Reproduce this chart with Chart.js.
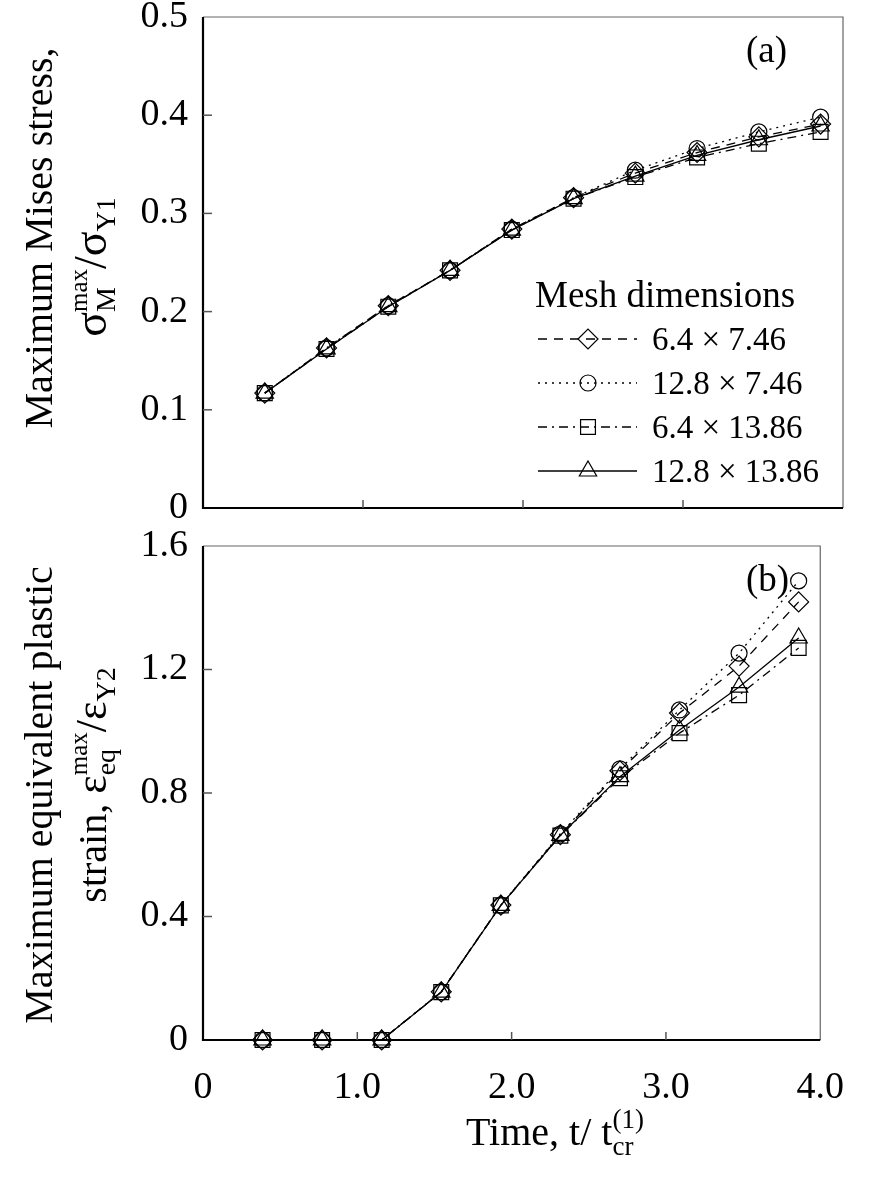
<!DOCTYPE html>
<html>
<head>
<meta charset="utf-8">
<script src="https://cdn.jsdelivr.net/npm/chart.js@4.4.1/dist/chart.umd.min.js"></script>
<style>
  html, body { margin: 0; padding: 0; background: #fff; }
  #wrap { position: relative; width: 869px; height: 1180px; overflow: hidden; }
  .panel { position: absolute; left: 0; width: 869px; }
  #panelA { top: -30px; height: 590px; }
  #panelB { top: 500px; height: 680px; }
</style>
</head>
<body>
<div id="wrap">
  <div class="panel" id="panelA"><canvas id="stressCanvas" width="869" height="590"></canvas></div>
  <div class="panel" id="panelB"><canvas id="strainCanvas" width="869" height="680"></canvas></div>
</div>
<script>
var SERIF = '"Liberation Serif", "Times New Roman", serif';
Chart.defaults.font.family = SERIF;
Chart.defaults.color = '#000';

// time steps, t / t_cr(1)
var times = [0.386, 0.772, 1.158, 1.544, 1.930, 2.316, 2.702, 3.088, 3.474, 3.860];

// mesh sizes
var meshLabels = ['6.4 \u00d7 7.46', '12.8 \u00d7 7.46', '6.4 \u00d7 13.86', '12.8 \u00d7 13.86'];

// (a) max Mises stress / sigma_Y1
var stress_6_4x7_46   = [0.117, 0.163, 0.206, 0.242, 0.284, 0.316, 0.341, 0.362, 0.378, 0.391];
var stress_12_8x7_46  = [0.117, 0.163, 0.206, 0.242, 0.284, 0.316, 0.344, 0.366, 0.383, 0.398];
var stress_6_4x13_86  = [0.117, 0.162, 0.205, 0.242, 0.283, 0.315, 0.337, 0.357, 0.371, 0.383];
var stress_12_8x13_86 = [0.117, 0.162, 0.205, 0.242, 0.283, 0.315, 0.338, 0.359, 0.375, 0.389];

// (b) max equivalent plastic strain / eps_Y2
var strain_6_4x7_46   = [0, 0, 0, 0.156, 0.437, 0.665, 0.872, 1.059, 1.211, 1.419];
var strain_12_8x7_46  = [0, 0, 0, 0.156, 0.437, 0.668, 0.878, 1.069, 1.253, 1.487];
var strain_6_4x13_86  = [0, 0, 0, 0.155, 0.436, 0.662, 0.848, 0.994, 1.117, 1.270];
var strain_12_8x13_86 = [0, 0, 0, 0.155, 0.436, 0.663, 0.853, 1.004, 1.143, 1.302];

var dashes  = [[9, 7], [2, 5], [9, 5, 2, 5], []];
var markers = ['rectRot', 'circle', 'rect', 'triangle'];
var radii   = [10, 8, 10.5, 10];

function makeDatasets(series) {
  return series.map(function (vals, i) {
    return {
      label: meshLabels[i],
      data: times.map(function (t, j) { return { x: t, y: vals[j] }; }),
      borderColor: '#000',
      borderWidth: 1.3,
      borderDash: dashes[i],
      pointStyle: markers[i],
      pointRadius: radii[i],
      pointBorderWidth: 1.2,
      pointBorderColor: '#000',
      pointBackgroundColor: 'rgba(0,0,0,0)',
      tension: 0,
      fill: false,
      clip: false
    };
  });
}

// lays out runs of text, "stack" puts the next run at the same x (sup over sub)
function layoutRuns(ctx, parts) {
  var x = 0, pending = null, runs = [];
  parts.forEach(function (p) {
    var font = p.size + 'px ' + SERIF;
    ctx.font = font;
    var w = ctx.measureText(p.text).width;
    if (pending) {
      runs.push({ text: p.text, font: font, x: pending.x, dy: p.dy || 0 });
      x = pending.x + Math.max(pending.w, w);
      pending = null;
    } else {
      runs.push({ text: p.text, font: font, x: x, dy: p.dy || 0 });
      if (p.stack) pending = { x: x, w: w }; else x += w;
    }
  });
  return { runs: runs, width: x };
}

function drawRich(ctx, parts, px, py, vertical) {
  var lay = layoutRuns(ctx, parts);
  ctx.save();
  ctx.translate(px, py);
  if (vertical) ctx.rotate(-Math.PI / 2);
  ctx.textAlign = 'left';
  ctx.textBaseline = 'alphabetic';
  ctx.fillStyle = '#000';
  lay.runs.forEach(function (r) {
    ctx.font = r.font;
    ctx.fillText(r.text, r.x - lay.width / 2, r.dy);
  });
  ctx.restore();
}

var panelDecor = {
  id: 'panelDecor',
  afterDatasetsDraw: function (chart, args, opts) {
    var ctx = chart.ctx, a = chart.chartArea;
    var xs = chart.scales.x, ys = chart.scales.y;
    ctx.save();
    ctx.setLineDash([]);

    // frame: thin grey top/right, heavy left/bottom
    ctx.strokeStyle = '#666';
    ctx.lineWidth = 1.2;
    ctx.beginPath();
    ctx.moveTo(a.left, a.top); ctx.lineTo(a.right, a.top); ctx.lineTo(a.right, a.bottom);
    ctx.stroke();
    ctx.strokeStyle = '#000';
    ctx.lineWidth = 2.2;
    ctx.beginPath();
    ctx.moveTo(a.left, a.top); ctx.lineTo(a.left, a.bottom); ctx.lineTo(a.right, a.bottom);
    ctx.stroke();

    // tick marks pointing inwards
    ctx.strokeStyle = '#555';
    ctx.lineWidth = 1.5;
    xs.ticks.forEach(function (t) {
      if (t.value <= xs.min || t.value >= xs.max) return;
      var px = xs.getPixelForValue(t.value);
      ctx.beginPath(); ctx.moveTo(px, a.bottom); ctx.lineTo(px, a.bottom - 8); ctx.stroke();
    });
    ys.ticks.forEach(function (t) {
      if (t.value <= ys.min || t.value >= ys.max) return;
      var py = ys.getPixelForValue(t.value);
      ctx.beginPath(); ctx.moveTo(a.left, py); ctx.lineTo(a.left + 9, py); ctx.stroke();
    });

    // panel letter
    ctx.fillStyle = '#000';
    ctx.font = '37px ' + SERIF;
    ctx.textAlign = 'left';
    ctx.textBaseline = 'alphabetic';
    ctx.fillText(opts.letter, 746, opts.letterY);

    // y axis title, two lines
    drawRich(ctx, opts.title1, 52, opts.title1Y, true);
    drawRich(ctx, opts.title2, 106, opts.title2Y, true);

    if (opts.xTitle) drawRich(ctx, opts.xTitle, 555, opts.xTitleY, false);

    if (opts.legend) {
      var lg = opts.legend;
      ctx.font = '37px ' + SERIF;
      ctx.fillText('Mesh dimensions', lg.x, lg.titleY);
      chart.data.datasets.forEach(function (ds, i) {
        var y = lg.firstY + i * lg.step;
        ctx.strokeStyle = '#000';
        ctx.lineWidth = ds.borderWidth;
        ctx.setLineDash(ds.borderDash);
        ctx.beginPath(); ctx.moveTo(lg.x + 3, y); ctx.lineTo(lg.x + 102, y); ctx.stroke();
        ctx.setLineDash([]);
        ctx.fillStyle = 'rgba(0,0,0,0)';
        ctx.lineWidth = ds.pointBorderWidth;
        Chart.helpers.drawPoint(ctx, {
          pointStyle: ds.pointStyle, radius: ds.pointRadius, rotation: 0, borderWidth: ds.pointBorderWidth
        }, lg.x + 53, y);
        ctx.fillStyle = '#000';
        ctx.font = '33px ' + SERIF;
        ctx.fillText(ds.label, lg.x + 117, y + 11);
      });
    }
    ctx.restore();
  }
};

function tickText(v) { return v === 0 ? '0' : v.toFixed(1); }

var baseY = function (max, step, width) {
  return {
    min: 0, max: max,
    ticks: { stepSize: step, font: { size: 38 }, color: '#000', padding: 15, callback: tickText },
    grid: { display: false, drawTicks: false },
    border: { display: false },
    afterFit: function (s) { s.width = width; }
  };
};

new Chart(document.getElementById('stressCanvas'), {
  type: 'line',
  data: { datasets: makeDatasets([stress_6_4x7_46, stress_12_8x7_46, stress_6_4x13_86, stress_12_8x13_86]) },
  options: {
    responsive: false, animation: false, events: [],
    layout: { padding: { left: 0, right: 26, top: 47, bottom: 52 } },
    plugins: {
      legend: { display: false }, tooltip: { enabled: false },
      panelDecor: {
        letter: '(a)', letterY: 92,
        title1: [{ text: 'Maximum Mises stress,', size: 40 }],
        title1Y: 268,
        title2: [
          { text: '\u03c3', size: 46 },
          { text: 'max', size: 25, dy: -19, stack: true },
          { text: 'M', size: 28, dy: 9 },
          { text: '/\u03c3', size: 46 },
          { text: 'Y1', size: 28, dy: 9 }
        ],
        title2Y: 297,
        legend: { x: 535, titleY: 337, firstY: 369, step: 44 }
      }
    },
    scales: {
      x: {
        type: 'linear', min: 0, max: 4,
        ticks: { stepSize: 1, display: false },
        grid: { display: false, drawTicks: false },
        border: { display: false }
      },
      y: baseY(0.5, 0.1, 203)
    }
  },
  plugins: [panelDecor]
});

new Chart(document.getElementById('strainCanvas'), {
  type: 'line',
  data: { datasets: makeDatasets([strain_6_4x7_46, strain_12_8x7_46, strain_6_4x13_86, strain_12_8x13_86]) },
  options: {
    responsive: false, animation: false, events: [],
    layout: { padding: { left: 0, right: 27, top: 46, bottom: 0 } },
    plugins: {
      legend: { display: false }, tooltip: { enabled: false },
      panelDecor: {
        letter: '(b)', letterY: 91,
        title1: [{ text: 'Maximum equivalent plastic', size: 40 }],
        title1Y: 295,
        title2: [
          { text: 'strain, ', size: 40 },
          { text: '\u03b5', size: 44 },
          { text: 'max', size: 25, dy: -19, stack: true },
          { text: 'eq', size: 28, dy: 9 },
          { text: '/\u03b5', size: 44 },
          { text: 'Y2', size: 28, dy: 9 }
        ],
        title2Y: 285,
        xTitle: [
          { text: 'Time, t/ t', size: 40 },
          { text: '(1)', size: 27, dy: -17, stack: true },
          { text: 'cr', size: 27, dy: 10 }
        ],
        xTitleY: 645
      }
    },
    scales: {
      x: {
        type: 'linear', min: 0, max: 4,
        ticks: { stepSize: 1, font: { size: 38 }, color: '#000', padding: 25, callback: tickText, maxRotation: 0 },
        grid: { display: false, drawTicks: false },
        border: { display: false },
        afterFit: function (s) { s.height = 140; }
      },
      y: baseY(1.6, 0.4, 203)
    }
  },
  plugins: [panelDecor]
});
</script>
</body>
</html>
